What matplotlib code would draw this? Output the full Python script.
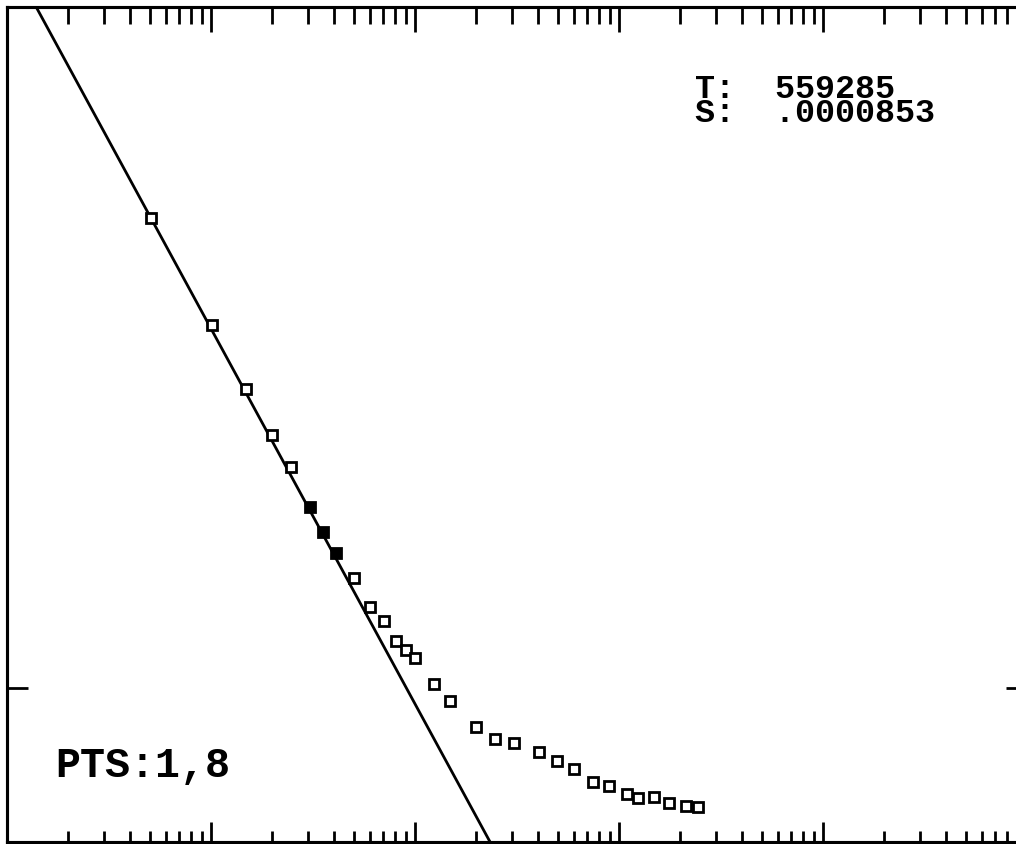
import numpy as np
import matplotlib
matplotlib.use("Agg")
import matplotlib.pyplot as plt

# observed drawdown (ft) against time since pumping started (min)
time_min = [5.08, 10.1, 14.85, 19.9, 24.7, 30.6, 35.4, 41.0, 50.2, 60.2,
            70.5, 80.7, 90.3, 100, 124, 148.5, 199, 247, 306, 405,
            497, 602, 746, 894, 1094, 1239, 1485, 1758, 2130, 2440]
drawdown_ft = [3.10, 4.67, 5.61, 6.28, 6.75, 7.34, 7.71, 8.02, 8.38, 8.81,
               9.02, 9.31, 9.44, 9.56, 9.94, 10.19, 10.57, 10.75, 10.81, 10.94,
               11.07, 11.19, 11.38, 11.44, 11.56, 11.62, 11.60, 11.69, 11.73, 11.75]
solid_pts = [5, 6, 7]

# straight line fitted through points 1..8
jacob_t0 = 1.39      # time where the line crosses zero drawdown
jacob_ds = 5.51      # drawdown per log cycle

T_text = "T:  559285"
S_text = "S:  .0000853"
pts_text = "PTS:1,8"

fig = plt.figure(figsize=(10.16, 8.44), dpi=100)
W, H = 1016, 844
ax = fig.add_axes([7 / W, 2 / H, 1020 / W, 835 / H])

ax.set_xscale("log")
ax.set_xlim(1, 1e5)
ax.set_ylim(12.26, 0)

t_line = np.array(ax.get_xlim())
ax.plot(t_line, jacob_ds * np.log10(t_line / jacob_t0), color="black", lw=2)

for i, (t, s) in enumerate(zip(time_min, drawdown_ft)):
    face = "black" if i in solid_pts else "white"
    ax.plot(t, s, marker="s", ms=6.5, mew=2, mec="black", mfc=face, ls="none")

for sp in ax.spines.values():
    sp.set_linewidth(2.2)

ax.set_yticks([10])
ax.tick_params(axis="y", left=True, right=True, direction="in", length=15, width=2,
               labelleft=False, labelright=False)
ax.tick_params(axis="x", which="major", bottom=True, top=False, direction="in",
               length=14.4, width=2, labelbottom=False)
ax.tick_params(axis="x", which="minor", bottom=True, top=False, direction="in",
               length=8, width=2)

# top axis carries its own, longer ticks
top = ax.twiny()
top.set_xscale("log")
top.set_xlim(ax.get_xlim())
top.tick_params(axis="x", which="major", direction="in", length=18, width=2, labeltop=False)
top.tick_params(axis="x", which="minor", direction="in", length=12, width=2)
for sp in top.spines.values():
    sp.set_linewidth(2.2)

# fit results, printed as one tight block
fig.text(695 / W, 1 - 74 / H, T_text + "\n" + S_text, family="Liberation Mono",
         weight="bold", fontsize=24, linespacing=0.7, va="top", ha="left")
fig.text(55 / W, 1 - 777 / H, pts_text, family="Liberation Mono", weight="bold",
         fontsize=30, va="baseline", ha="left")

fig.savefig("out.png", dpi=100)
